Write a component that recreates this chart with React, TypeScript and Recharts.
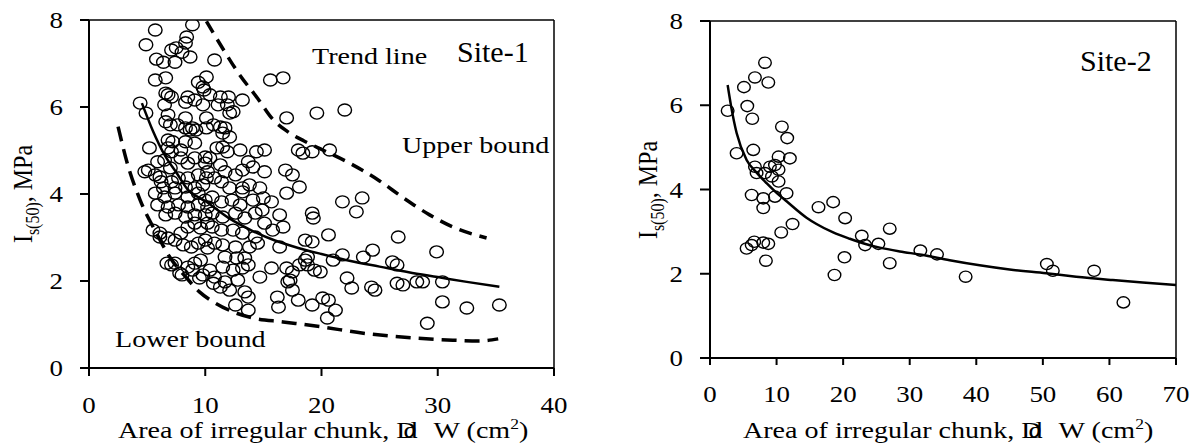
import React from "react";
import { ComposedChart, Scatter, Line, XAxis, YAxis, ReferenceLine } from "recharts";

const FONT = "'Liberation Serif', 'Times New Roman', serif";
const SX = 1.17;

// Site-1 measured points [area, Is50]
const site1Points: [number, number][] = [
  [5.7,7.77],[4.9,7.43],[5.8,7.1],[6.4,7.03],[7.4,7.03],[7.1,7.31],[8.0,7.26],[8.3,7.47],[8.4,7.61],[8.9,7.89],[8.7,7.15],[10.8,7.08],[7.5,7.36],
  [5.7,6.62],[6.6,6.67],[6.8,6.28],[7.1,6.23],[6.6,6.32],[8.5,6.23],[9.4,6.57],[10.1,6.69],[9.8,6.46],[8.3,6.11],[9.1,6.16],[9.8,6.05],[9.9,6.39],[10.4,6.28],[11.3,6.23],[12.0,6.23],[11.1,6.05],[11.9,6.05],[12.1,5.86],[12.4,5.89],[13.2,6.16],[15.6,6.62],[16.7,6.67],[17.0,5.75],[19.6,5.86],[22.0,5.93],
  [4.4,6.09],[4.9,5.86],[6.5,6.05],[6.8,5.82],[6.6,5.66],[7.0,5.59],[7.6,5.59],[8.3,5.75],[8.3,5.52],[8.7,5.47],[8.9,5.52],[9.2,5.47],[10.1,5.52],[10.1,5.75],[10.7,5.59],[11.3,5.54],[11.7,5.52],[11.5,5.4],[12.1,5.31],
  [5.2,5.06],[6.8,5.24],[7.2,5.2],[8.3,5.2],[9.1,5.17],[6.8,5.06],[7.1,4.97],[7.9,5.01],[11.0,5.06],[11.5,5.08],[11.9,4.97],[13.0,5.01],[14.4,4.97],[15.1,5.01],[18.0,5.01],[18.4,4.94],[19.2,4.97],[20.7,5.01],
  [5.9,4.74],[6.5,4.78],[7.0,4.6],[7.9,4.83],[8.5,4.71],[9.1,4.83],[10.0,4.85],[10.0,4.71],[10.4,4.83],[5.1,4.55],[4.8,4.51],[5.7,4.44],[6.1,4.39],[6.2,4.28],[7.1,4.28],[7.7,4.37],[8.5,4.37],[9.4,4.44],[10.1,4.37],[10.2,4.51],[10.8,4.37],[11.4,4.28],[13.7,4.74],[14.1,4.62],[13.2,4.55],[15.1,4.51],[16.9,4.55],[17.5,4.44],[18.1,4.16],[17.0,4.02],[6.4,4.14],[7.4,4.14],[8.3,4.16],[9.1,4.14],[9.8,4.21],[12.1,4.14],[13.2,4.14],[14.7,4.14],[11.3,4.67],[12.6,4.44],[11.7,4.51],[13.8,4.21],
  [5.7,4.02],[6.5,3.93],[7.4,4.02],[8.5,3.93],[9.4,4.02],[10.0,3.86],[5.9,3.75],[6.8,3.7],[7.7,3.75],[8.5,3.7],[9.4,3.75],[10.2,3.7],[6.6,3.52],[7.4,3.56],[8.3,3.47],[9.1,3.52],[10.0,3.52],[10.6,3.93],[11.4,3.82],[12.3,3.86],[13.2,4.05],[14.1,3.86],[15.0,3.91],[15.7,3.82],[16.4,3.52],[19.2,3.56],[19.3,3.45],[10.6,3.56],[11.5,3.47],[12.6,3.56],[13.4,3.45],[14.3,3.56],[15.1,3.33],[15.8,3.17],[16.7,3.24],[21.8,3.82],[23.5,3.91],[23.0,3.59],[5.5,3.17],[6.1,3.1],[7.9,3.1],[8.5,3.24],[9.1,3.33],[9.6,3.22],[10.2,3.33],[10.6,3.24],[11.4,3.17],[12.4,3.17],[13.2,3.1],[13.0,3.75],[14.9,3.63],
  [6.8,2.99],[7.4,2.94],[8.1,2.83],[8.8,2.78],[9.4,2.87],[10.0,2.94],[10.2,2.76],[14.3,3.01],[14.5,2.87],[13.8,2.78],[10.8,2.87],[11.5,2.83],[12.6,2.78],[16.4,2.78],[18.6,2.94],[19.2,2.9],[20.6,3.06],[21.0,2.48],[7.1,2.37],[7.8,2.18],[8.5,2.32],[9.1,2.41],[9.6,2.48],[9.8,2.14],[10.4,2.25],[10.7,1.95],[11.7,2.55],[12.7,2.53],[13.4,2.53],[11.5,2.32],[12.4,2.25],[13.2,2.3],[13.7,2.37],[14.7,2.09],[15.7,2.3],[17.0,2.3],[17.5,2.21],[18.1,2.37],[18.6,2.48],[18.8,2.37],[19.4,2.25],[19.9,2.21],[10.8,2.09],[11.7,1.98],[12.8,2.02],[18.8,2.55],[21.8,2.6],[23.6,2.55],[24.4,2.71],[26.1,2.44],[26.5,2.37],[26.6,3.01],[29.9,2.67],[7.4,2.41],[8.0,2.14],[9.5,2.07],[8.9,2.25],[6.1,3.01],[6.7,2.41],[17.3,2.02],
  [11.3,1.86],[12.1,1.79],[13.4,1.75],[13.7,1.63],[12.6,1.45],[13.7,1.33],[16.2,1.63],[16.3,1.4],[17.1,1.98],[17.5,1.79],[18.0,1.56],[19.2,1.45],[20.1,1.61],[20.6,1.56],[20.5,1.15],[21.2,1.33],[22.2,2.07],[22.6,1.84],[24.3,1.86],[24.6,1.79],[26.5,1.95],[27.0,1.91],[28.2,1.98],[28.7,1.98],[30.4,1.98],[30.4,1.52],[32.5,1.38],[35.3,1.45],[29.1,1.03],
];

const site1Trend: [number, number][] = [
  [4.55,6.09],[5.5,5.45],[6.5,4.9],[7.5,4.5],[8.5,4.1],[10,3.84],[12,3.45],[14,3.16],[16,2.93],[18,2.76],[20,2.62],[22.5,2.46],[25,2.33],[27.5,2.2],[30,2.09],[32.5,1.98],[35.3,1.87],
];
const site1Upper: [number, number][] = [
  [10.1,7.97],[11.7,7.26],[12.8,6.8],[14.5,6.2],[15.8,5.72],[17,5.45],[18.5,5.22],[20.2,5.0],[22.2,4.74],[25,4.3],[27,3.92],[29.3,3.52],[31.5,3.22],[34.2,2.99],
];
const site1Lower: [number, number][] = [
  [2.5,5.55],[3.3,4.7],[4.4,3.86],[5.8,3.1],[7.0,2.53],[8.4,2.07],[9.5,1.75],[10.7,1.52],[12.4,1.29],[14.1,1.15],[16.7,1.06],[19.9,0.95],[23.6,0.8],[27.9,0.69],[31.3,0.64],[33.5,0.62],[35.2,0.67],
];

const site2Points: [number, number][] = [
  [2.65,5.87],[4.0,4.86],[5.1,6.43],[5.6,5.98],[6.35,5.68],[6.5,4.94],[6.75,6.66],[8.26,7.01],[8.76,6.54],[6.75,4.54],[7.0,4.39],[8.26,4.39],[9.0,4.54],[9.76,4.58],[10.3,4.47],[10.3,4.78],[9.3,4.31],[10.3,4.19],[12.0,4.74],[10.8,5.49],[11.6,5.22],[6.26,3.87],[8.0,3.79],[8.0,3.56],[9.76,3.83],[11.5,3.91],[16.3,3.58],[18.5,3.7],[20.3,3.32],[12.4,3.18],[27.0,3.07],[5.5,2.6],[6.26,2.68],[6.65,2.76],[8.0,2.74],[8.76,2.71],[8.4,2.31],[10.7,2.98],[18.7,1.97],[20.2,2.39],[22.8,2.9],[23.3,2.68],[25.3,2.71],[27.0,2.25],[31.6,2.55],[34.1,2.46],[38.4,1.93],[50.6,2.23],[51.5,2.07],[57.7,2.07],[62.1,1.32],
];
const site2Trend: [number, number][] = [
  [2.65,6.48],[3.2,5.95],[4.0,5.34],[5.5,4.7],[7,4.4],[8.5,4.15],[10,3.92],[11.5,3.72],[14.5,3.33],[16,3.18],[18.5,2.98],[21,2.83],[23.5,2.7],[25.5,2.62],[28.5,2.53],[31.8,2.45],[36,2.32],[40.5,2.2],[45,2.1],[50.5,2.01],[55,1.93],[60.5,1.85],[65,1.79],[70,1.73],
];

const yTicks = [0, 2, 4, 6, 8];
const x1Ticks = [0, 10, 20, 30, 40];
const x2Ticks = [0, 10, 20, 30, 40, 50, 60, 70];

const toObj = (arr: [number, number][]) => arr.map(([x, y]) => ({ x, y }));

const XTick = (props: any) => {
  const { x, y, payload } = props;
  return (
    <text transform={`translate(${x},${y}) scale(${SX},1)`} textAnchor="middle" dy="0.71em" fontFamily={FONT} fontSize={23} fill="#000">
      {payload.value}
    </text>
  );
};
const YTick = (props: any) => {
  const { x, y, payload } = props;
  return (
    <text transform={`translate(${x},${y}) scale(${SX},1)`} textAnchor="end" dy="0.355em" fontFamily={FONT} fontSize={23} fill="#000">
      {payload.value}
    </text>
  );
};

const makeShape = (rx: number, ry: number) => (props: any) => (
  <ellipse cx={props.cx} cy={props.cy} rx={rx} ry={ry} fill="none" stroke="#000" strokeWidth={1.4} />
);

const axisLine = { stroke: "#000", strokeWidth: 2 };
const tickLine = { stroke: "#000", strokeWidth: 2 };

const SText = ({ x, y, size = 24, sx = SX, children }: any) => (
  <text transform={`translate(${x},${y}) scale(${sx},1)`} fontFamily={FONT} fontSize={size} fill="#000">
    {children}
  </text>
);

const YTitle = ({ x, y }: any) => (
  <text transform={`translate(${x},${y}) scale(${SX},1) rotate(-90)`} textAnchor="middle" fontFamily={FONT} fontSize={24} fill="#000">
    I<tspan fontSize={16} dy={6}>s(50)</tspan>
    <tspan dy={-6}>, MPa</tspan>
  </text>
);

const XTitle = ({ x, y }: any) => (
  <text transform={`translate(${x},${y}) scale(${SX},1)`} fontFamily={FONT} fontSize={24} fill="#000">
    Area of irregular chunk, D<tspan dx={-11}>d</tspan>
    <tspan dx={8}> W (cm</tspan>
    <tspan fontSize={15} dy={-9}>2</tspan>
    <tspan dy={9}>)</tspan>
  </text>
);

export default function App() {
  const s1 = toObj(site1Points);
  const s2 = toObj(site2Points);
  return (
    <div style={{ position: "absolute", left: 0, top: 0, width: 1197, height: 446, background: "#fff" }}>
      <div style={{ position: "absolute", left: 0, top: 0 }}>
        <ComposedChart width={580} height={446} margin={{ top: 20, right: 26, bottom: 28, left: 49 }}>
          <XAxis type="number" dataKey="x" domain={[0, 40]} ticks={x1Ticks} interval={0} height={50}
            axisLine={axisLine} tickLine={tickLine} tickSize={8} tickMargin={21} tick={<XTick />} allowDataOverflow />
          <YAxis type="number" dataKey="y" domain={[0, 8]} ticks={yTicks} interval={0} width={40}
            axisLine={axisLine} tickLine={tickLine} tickSize={9} tickMargin={17} tick={<YTick />} allowDataOverflow />
          <ReferenceLine y={8} stroke="#000" strokeWidth={1.5} />
          <ReferenceLine x={40} stroke="#000" strokeWidth={1.5} />
          <Scatter data={s1} dataKey="y" shape={makeShape(6.8, 6)} isAnimationActive={false} />
          <Line data={toObj(site1Trend)} dataKey="y" type="monotone" stroke="#000" strokeWidth={2.5} dot={false} isAnimationActive={false} />
          <Line data={toObj(site1Upper)} dataKey="y" type="monotone" stroke="#000" strokeWidth={3.5} strokeDasharray="13 8" dot={false} isAnimationActive={false} />
          <Line data={toObj(site1Lower)} dataKey="y" type="monotone" stroke="#000" strokeWidth={3.5} strokeDasharray="15 8" dot={false} isAnimationActive={false} />
        </ComposedChart>
      </div>
      <div style={{ position: "absolute", left: 600, top: 0 }}>
        <ComposedChart width={597} height={446} margin={{ top: 21, right: 21, bottom: 38, left: 70 }}>
          <XAxis type="number" dataKey="x" domain={[0, 70]} ticks={x2Ticks} interval={0} height={50}
            axisLine={axisLine} tickLine={tickLine} tickSize={7} tickMargin={21} tick={<XTick />} allowDataOverflow />
          <YAxis type="number" dataKey="y" domain={[0, 8]} ticks={yTicks} interval={0} width={40}
            axisLine={axisLine} tickLine={tickLine} tickSize={10} tickMargin={17} tick={<YTick />} allowDataOverflow />
          <ReferenceLine y={8} stroke="#000" strokeWidth={1.5} />
          <ReferenceLine x={70} stroke="#000" strokeWidth={1.5} />
          <Scatter data={s2} dataKey="y" shape={makeShape(6.3, 5.6)} isAnimationActive={false} />
          <Line data={toObj(site2Trend)} dataKey="y" type="monotone" stroke="#000" strokeWidth={2.5} dot={false} isAnimationActive={false} />
        </ComposedChart>
      </div>
      <svg width={1197} height={446} style={{ position: "absolute", left: 0, top: 0, pointerEvents: "none" }}>
        <SText x={312} y={64}>Trend line</SText>
        <SText x={457} y={62} size={30} sx={1}>Site-1</SText>
        <SText x={402} y={153}>Upper bound</SText>
        <SText x={115} y={347}>Lower bound</SText>
        <SText x={1080} y={71} size={30} sx={1}>Site-2</SText>
        <YTitle x={32} y={194} />
        <YTitle x={657} y={190} />
        <XTitle x={118} y={438} />
        <XTitle x={743} y={438} />
      </svg>
    </div>
  );
}
